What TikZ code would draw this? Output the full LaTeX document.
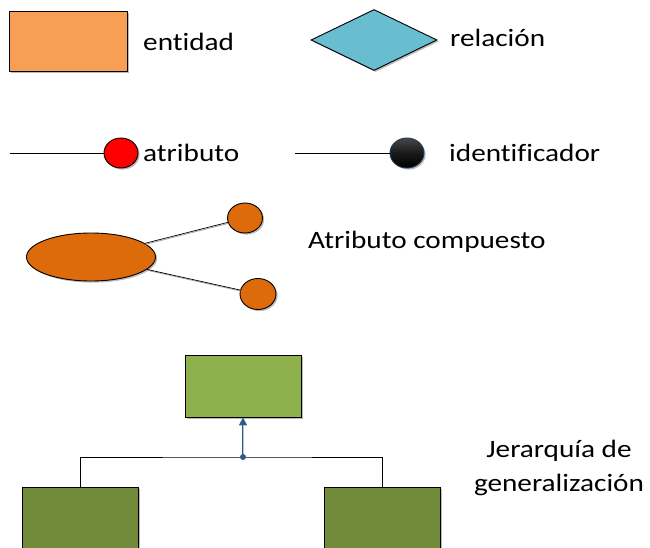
\documentclass[tikz,border=0pt]{standalone}
\usepackage{fontspec}
\setmainfont{Carlito}[FakeStretch=1.17,Ligatures=NoCommon]
\usetikzlibrary{shadows,arrows.meta,shapes.geometric}
\definecolor{entorange}{HTML}{F79F55}
\definecolor{relblue}{HTML}{68BDD0}
\definecolor{attred}{HTML}{FF0000}
\definecolor{compor}{HTML}{DD6A0B}
\definecolor{supgreen}{HTML}{8EB04D}
\definecolor{subgreen}{HTML}{728B3B}
\definecolor{arrblue}{HTML}{2F5B8C}
\definecolor{idborder}{HTML}{233A58}
\tikzset{
  shd/.style={drop shadow={shadow xshift=1.6pt,shadow yshift=-1.6pt,fill=black!45,opacity=0.6}},
  boxshape/.style={draw=black,line width=0.9pt,shd,inner sep=0pt},
  lbl/.style={font=\fontsize{25}{29}\selectfont,inner sep=0pt,anchor=west},
  lnk/.style={draw=black,line width=0.8pt},
  circ/.style={ellipse,draw=black,line width=0.9pt,shd,inner sep=0pt},
}
\begin{document}
\begin{tikzpicture}[x=1pt,y=-1pt]
\useasboundingbox (0,0) rectangle (650,548);

% entity and relationship
\node[boxshape,fill=entorange,minimum width=118pt,minimum height=60pt] (ent) at (68,41) {};
\node[lbl] (entl) at (143,42) {entidad};
\node[diamond,draw=black,line width=0.9pt,fill=relblue,shd,minimum width=126pt,minimum height=61pt,inner sep=0pt,aspect=2] (rel) at (374,40) {};
\node[lbl] (rell) at (450,38) {relación};

% attribute and identifier
\node[circ,fill=attred,minimum width=34pt,minimum height=30pt] (att) at (121,153) {};
\coordinate (a0) at (10,153);
\draw[lnk] (a0) -- (att.west);
\node[lbl] (attl) at (143,153) {atributo};

\node[ellipse,draw=idborder,line width=0.9pt,top color=black!72,bottom color=black,middle color=black!90,shd,inner sep=0pt,minimum width=34pt,minimum height=30pt] (idf) at (407,153) {};
\coordinate (i0) at (295,153);
\draw[lnk] (i0) -- (idf.west);
\node[lbl] (idl) at (449,153) {identificador};

% composite attribute
\node[circ,fill=compor,minimum width=129pt,minimum height=48pt] (comp) at (91,257) {};
\node[circ,fill=compor,minimum width=35pt,minimum height=30pt] (c1) at (245,218) {};
\node[circ,fill=compor,minimum width=36pt,minimum height=31pt] (c2) at (258,294) {};
\draw[black!35,line width=0.8pt,transform canvas={xshift=0.6pt,yshift=-1pt}] (comp) -- (c1) (comp) -- (c2);
\draw[lnk,line width=0.7pt] (comp) -- (c1);
\draw[lnk,line width=0.7pt] (comp) -- (c2);
\node[lbl] (compl) at (308,242) {Atributo compuesto};

% generalization hierarchy
\node[boxshape,fill=supgreen,minimum width=116pt,minimum height=62pt] (sup) at (243,386) {};
\node[boxshape,fill=subgreen,minimum width=116pt,minimum height=64pt,anchor=north] (subl) at (80,487) {};
\node[boxshape,fill=subgreen,minimum width=116pt,minimum height=64pt,anchor=north] (subr) at (382,487) {};
\coordinate (hj) at (243,457);
\draw[lnk,line width=1pt] (subl.north) |- (hj) -| (subr.north);
\draw[arrblue,line width=1.5pt,-{Triangle[length=8pt,width=8pt]}] (hj) -- (sup.south);
\draw[arrblue!35,line width=0.5pt,shorten >=8pt] (hj) -- (sup.south);
\fill[arrblue] (hj) circle (3pt);
\node[font=\fontsize{25}{34}\selectfont,align=center,inner sep=0pt] (genl) at (559,468) {Jerarquía de\\generalización};
\end{tikzpicture}
\end{document}
